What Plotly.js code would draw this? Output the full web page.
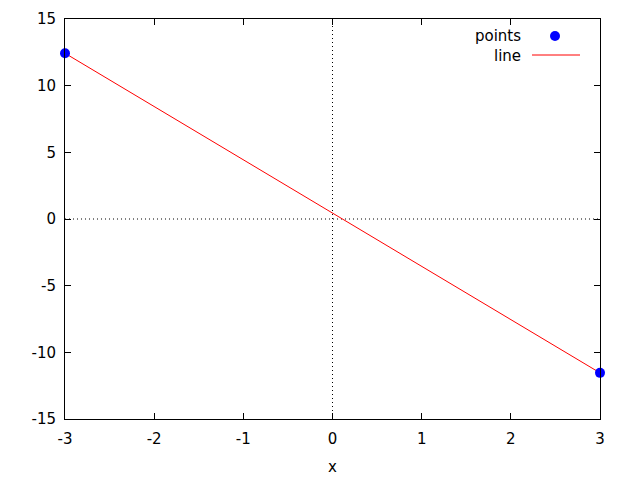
<!DOCTYPE html>
<html>
<head>
<meta charset="utf-8">
<script src="https://cdn.plot.ly/plotly-3.0.1.min.js"></script>
<style>html,body{margin:0;padding:0;background:#fff;}#chart{width:640px;height:480px;}</style>
</head>
<body>
<div id="chart"></div>
<script>
// Data
const pointsX = [-3, 3];
const pointsY = [12.43, -11.54];
const lineX = [-3, 3];
const lineY = [12.43, -11.54];
const xTicks = [-3, -2, -1, 0, 1, 2, 3];
const yTicks = [-15, -10, -5, 0, 5, 10, 15];
const seriesNames = ["points", "line"];

const font = {family: "DejaVu Sans, sans-serif", size: 15, color: "#000"};

const traces = [
  {x: lineX, y: lineY, mode: "lines", name: seriesNames[1],
   line: {color: "#ff0000", width: 1}, showlegend: false, cliponaxis: false},
  {x: pointsX, y: pointsY, mode: "markers", name: seriesNames[0],
   marker: {color: "#0000ff", size: 10}, showlegend: false, cliponaxis: false}
];

const axisCommon = {
  showgrid: false, zeroline: false, showline: true, mirror: "ticks",
  linecolor: "#000", linewidth: 1, ticks: "inside", ticklen: 6,
  tickcolor: "#000", tickwidth: 1, tickfont: font, fixedrange: true
};

const PH = 400, PW = 535, TOP = 19, LEFT = 65;
const py = (pix) => (TOP + PH - pix) / PH;
const px = (pix) => (pix - LEFT) / PW;

const layout = {
  width: 640, height: 480,
  margin: {l: LEFT, r: 40, t: TOP, b: 61},
  paper_bgcolor: "#fff", plot_bgcolor: "#fff",
  font: font,
  showlegend: false,
  xaxis: Object.assign({}, axisCommon, {
    range: [-3, 3], tickvals: xTicks, ticktext: xTicks.map(String),
    ticklabelstandoff: 6,
    title: {text: "x", font: font, standoff: 14}
  }),
  yaxis: Object.assign({}, axisCommon, {
    range: [-15, 15], tickvals: yTicks, ticktext: yTicks.map(String),
    ticklabelstandoff: 5
  }),
  shapes: [
    {type: "line", xref: "x", yref: "paper", x0: 0, x1: 0, y0: 0, y1: 1,
     line: {color: "#000", width: 1, dash: "1px,3px"}, layer: "below"},
    {type: "line", xref: "paper", yref: "y", x0: 0, x1: 1, y0: 0, y1: 0,
     line: {color: "#000", width: 1, dash: "1px,3px"}, layer: "below"},
    // legend sample for "line"
    {type: "line", xref: "paper", yref: "paper",
     x0: px(532), x1: px(580), y0: py(55), y1: py(55),
     line: {color: "#ff0000", width: 1}},
    // legend sample for "points"
    {type: "circle", xref: "paper", yref: "paper",
     x0: px(550), x1: px(560), y0: py(41), y1: py(31),
     fillcolor: "#0000ff", line: {color: "#0000ff", width: 0}}
  ],
  annotations: [
    {xref: "paper", yref: "paper", x: px(523), y: py(36.5),
     text: seriesNames[0], showarrow: false, xanchor: "right", yanchor: "middle", font: font},
    {xref: "paper", yref: "paper", x: px(523), y: py(55.5),
     text: seriesNames[1], showarrow: false, xanchor: "right", yanchor: "middle", font: font}
  ]
};

Plotly.newPlot("chart", traces, layout, {staticPlot: true, displayModeBar: false});
</script>
</body>
</html>
